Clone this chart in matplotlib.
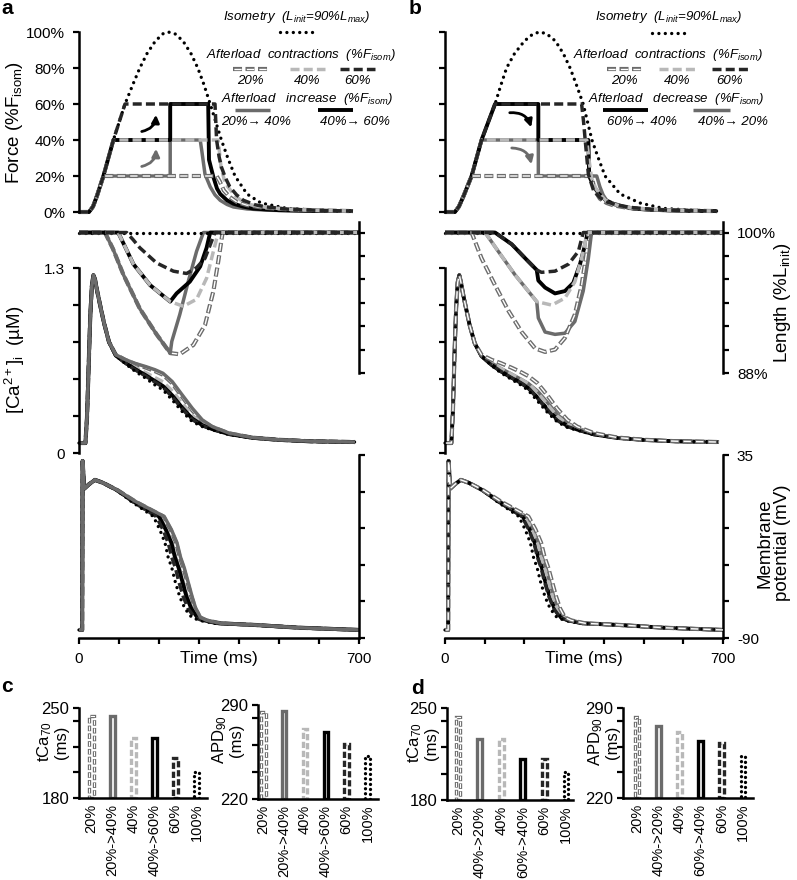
import matplotlib
matplotlib.use('Agg')
import matplotlib.pyplot as plt
from matplotlib.patches import FancyArrowPatch

plt.rcParams['font.family'] = ['Liberation Sans', 'DejaVu Sans']
plt.rcParams['mathtext.fontset'] = 'custom'
plt.rcParams['mathtext.rm'] = 'Liberation Sans'
plt.rcParams['mathtext.it'] = 'Liberation Sans:italic'
plt.rcParams['mathtext.bf'] = 'Liberation Sans:bold'
plt.rcParams['lines.scale_dashes'] = False

# ------------------------------------------------------------------ data
# Force (%F_isom) -- panel a
fa_t_iso = [0, 25, 35, 45, 61, 86, 115, 135, 152, 170, 191, 210, 223, 240, 260, 280, 297, 312, 328, 342, 356, 372, 390, 420, 455, 520, 590, 685]
fa_iso = [0, 0, 3, 9, 20, 40, 60, 71, 80, 88, 95, 99, 100, 99, 95, 88, 80, 71, 60, 50, 40, 30, 20, 10, 5, 2, 1, 0.5]
fa_t_20 = [0, 25, 35, 45, 61, 344, 352, 362, 377, 395, 420, 460, 520, 600, 685]
fa_20 = [0, 0, 3, 9, 20, 20, 17, 12, 8.3, 5.5, 3.8, 2.4, 1.5, 0.9, 0.5]
fa_t_40 = [0, 25, 35, 45, 61, 86, 348, 355, 363, 372, 390, 405, 430, 470, 530, 600, 685]
fa_40 = [0, 0, 3, 9, 20, 40, 40, 25, 18, 14, 9, 6.5, 4, 2.5, 1.4, 0.9, 0.5]
fa_t_60 = [0, 25, 35, 45, 61, 86, 115, 340, 344, 350, 356, 366, 377, 394, 411, 440, 469, 520, 600, 685]
fa_60 = [0, 0, 3, 9, 20, 40, 60, 60, 40, 31, 25, 19, 14, 9.5, 6.5, 4, 2.8, 1.6, 0.9, 0.5]
fa_t_2040 = [0, 25, 35, 45, 61, 228, 228, 303, 307, 315, 328, 340, 353, 370, 386, 420, 469, 540, 620, 685]
fa_2040 = [0, 0, 3, 9, 20, 20, 40, 40, 34, 21, 14, 9.5, 6.5, 4.2, 2.8, 1.7, 1, 0.7, 0.5, 0.5]
fa_t_4060 = [0, 25, 35, 45, 61, 86, 228, 228, 323, 325, 336, 345, 353, 370, 386, 410, 436, 500, 580, 685]
fa_4060 = [0, 0, 3, 9, 20, 40, 40, 60, 60, 29, 19.4, 13, 10, 6.5, 4.6, 3, 1.9, 1, 0.6, 0.5]

# Force (%F_isom) -- panel b
fb_t_iso = [0, 25, 35, 47, 67, 92, 126, 140, 155, 175, 200, 222, 239, 256, 278, 298, 315, 332, 348, 359, 370, 386, 403, 441, 491, 550, 620, 685]
fb_iso = [0, 0, 3, 9, 20, 40, 60, 70, 80, 88, 95, 99, 100, 99, 95, 88, 80, 70, 60, 50, 40, 30, 20, 10, 5, 2, 1, 0.5]
fb_t_20 = [0, 25, 35, 47, 67, 369, 373, 377, 390, 407, 424, 460, 520, 600, 685]
fb_20 = [0, 0, 3, 9, 20, 20, 16, 12, 7.4, 5, 3.7, 2.3, 1.3, 0.8, 0.5]
fb_t_40 = [0, 25, 35, 47, 67, 92, 357, 362, 369, 380, 390, 405, 430, 470, 530, 600, 685]
fb_40 = [0, 0, 3, 9, 20, 40, 40, 30, 19, 13, 10, 6.5, 4, 2.3, 1.3, 0.8, 0.5]
fb_t_60 = [0, 25, 35, 47, 67, 92, 126, 344, 349, 353, 361, 374, 390, 407, 440, 474, 530, 600, 685]
fb_60 = [0, 0, 3, 9, 20, 40, 60, 60, 50, 40, 21, 12, 8, 5.6, 3.5, 2.4, 1.3, 0.8, 0.5]
fb_t_6040 = [0, 25, 35, 47, 67, 92, 126, 235, 235, 361, 363, 375, 388, 405, 424, 450, 474, 520, 600, 685]
fb_6040 = [0, 0, 3, 9, 20, 40, 60, 60, 40, 40, 20, 14, 10, 6.5, 4.6, 3, 1.9, 1.2, 0.7, 0.5]
fb_t_4020 = [0, 25, 35, 47, 67, 92, 235, 235, 382, 390, 398, 407, 420, 445, 480, 540, 620, 685]
fb_4020 = [0, 0, 3, 9, 20, 40, 40, 20, 20, 14, 9.5, 6.5, 4.5, 3, 1.8, 1, 0.6, 0.5]

# Length (%L_init) -- panel a
la_t_iso = [0, 700]
la_iso = [100, 100]
la_t_20 = [0, 65, 85, 111, 152, 194, 228, 252, 286, 315, 336, 348, 359, 700]
la_20 = [100, 100, 98.6, 96.4, 93.5, 91.3, 89.7, 89.6, 90.4, 92.1, 95.0, 97.5, 100, 100]
la_t_2040 = [0, 65, 85, 111, 152, 194, 228, 232, 252, 273, 294, 311, 700]
la_2040 = [100, 100, 98.6, 96.4, 93.5, 91.3, 89.7, 90.7, 93.0, 95.8, 98.4, 100, 100]
la_t_40 = [0, 98, 115, 136, 178, 228, 261, 294, 319, 336, 348, 700]
la_40 = [100, 100, 98.8, 97.3, 95.5, 94.1, 93.7, 94.3, 96.1, 98.4, 100, 100]
la_t_4060 = [0, 98, 115, 136, 178, 228, 244, 277, 303, 319, 328, 700]
la_4060 = [100, 100, 98.8, 97.3, 95.5, 94.1, 94.8, 95.8, 97.1, 98.7, 100, 100]
la_t_60 = [0, 119, 135, 152, 194, 236, 269, 294, 315, 332, 340, 700]
la_60 = [100, 100, 99.4, 98.7, 97.4, 96.7, 96.5, 97.0, 97.8, 99.3, 100, 100]

# Length (%L_init) -- panel b
lb_t_iso = [0, 700]
lb_iso = [100, 100]
lb_t_20 = [0, 67, 92, 126, 160, 193, 227, 252, 277, 302, 327, 344, 357, 361, 700]
lb_20 = [100, 100, 97.8, 95.5, 93.3, 91.5, 90.1, 89.8, 90.0, 91.0, 93.0, 95.5, 98.4, 100, 100]
lb_t_40 = [0, 101, 134, 176, 231, 269, 302, 327, 344, 357, 360, 700]
lb_40 = [100, 100, 98.4, 96.4, 94.1, 93.8, 94.4, 95.8, 97.8, 99.8, 100, 100]
lb_t_4020 = [0, 101, 134, 176, 231, 235, 252, 277, 302, 327, 348, 361, 369, 700]
lb_4020 = [100, 100, 98.4, 96.4, 94.1, 92.7, 91.5, 91.3, 91.4, 92.4, 95.0, 97.8, 100, 100]
lb_t_6040 = [0, 126, 168, 202, 231, 235, 252, 277, 302, 323, 340, 353, 359, 700]
lb_6040 = [100, 100, 99.0, 97.8, 96.8, 95.9, 95.3, 94.8, 95.0, 95.7, 97.3, 99.0, 100, 100]
lb_t_60 = [0, 126, 168, 202, 231, 243, 277, 311, 336, 348, 700]
lb_60 = [100, 100, 99.0, 97.8, 96.8, 96.6, 96.7, 97.3, 98.4, 100, 100]

# [Ca2+]i (uM)
ca_t = [0, 16, 20, 24, 28, 32, 36, 40, 46, 52, 62, 75, 92, 117, 140, 167, 190, 210, 233, 258, 283, 308, 333, 375, 433, 500, 580, 690]
ca_a_iso = [0.07, 0.07, 0.25, 0.6, 0.95, 1.17, 1.25, 1.22, 1.13, 1.05, 0.92, 0.78, 0.685, 0.625, 0.575, 0.525, 0.478, 0.443, 0.373, 0.291, 0.221, 0.186, 0.163, 0.130, 0.106, 0.092, 0.082, 0.077]
ca_a_60 = [0.07, 0.07, 0.25, 0.6, 0.95, 1.17, 1.25, 1.22, 1.13, 1.05, 0.92, 0.78, 0.685, 0.630, 0.585, 0.540, 0.498, 0.462, 0.395, 0.310, 0.235, 0.192, 0.166, 0.132, 0.107, 0.092, 0.082, 0.077]
ca_a_4060 = [0.07, 0.07, 0.25, 0.6, 0.95, 1.17, 1.25, 1.22, 1.13, 1.05, 0.92, 0.78, 0.685, 0.632, 0.590, 0.546, 0.505, 0.470, 0.405, 0.318, 0.242, 0.196, 0.168, 0.133, 0.107, 0.092, 0.082, 0.077]
ca_a_40 = [0.07, 0.07, 0.25, 0.6, 0.95, 1.17, 1.25, 1.22, 1.13, 1.05, 0.92, 0.78, 0.685, 0.640, 0.602, 0.565, 0.530, 0.500, 0.437, 0.350, 0.265, 0.207, 0.172, 0.135, 0.108, 0.093, 0.082, 0.077]
ca_a_20 = [0.07, 0.07, 0.25, 0.6, 0.95, 1.17, 1.25, 1.22, 1.13, 1.05, 0.92, 0.78, 0.690, 0.652, 0.625, 0.600, 0.575, 0.550, 0.490, 0.395, 0.300, 0.225, 0.182, 0.138, 0.108, 0.093, 0.082, 0.077]
ca_a_2040 = [0.07, 0.07, 0.25, 0.6, 0.95, 1.17, 1.25, 1.22, 1.13, 1.05, 0.92, 0.78, 0.690, 0.655, 0.630, 0.607, 0.585, 0.560, 0.502, 0.408, 0.315, 0.233, 0.186, 0.140, 0.109, 0.093, 0.083, 0.077]
ca_b_iso = [0.07, 0.07, 0.3, 0.7, 1.02, 1.2, 1.25, 1.2, 1.11, 1.03, 0.90, 0.77, 0.680, 0.615, 0.565, 0.518, 0.480, 0.440, 0.365, 0.285, 0.218, 0.180, 0.160, 0.128, 0.105, 0.092, 0.082, 0.077]
ca_b_60 = [0.07, 0.07, 0.3, 0.7, 1.02, 1.2, 1.25, 1.2, 1.11, 1.03, 0.90, 0.77, 0.680, 0.620, 0.575, 0.530, 0.495, 0.458, 0.385, 0.300, 0.228, 0.186, 0.163, 0.130, 0.106, 0.092, 0.082, 0.077]
ca_b_6040 = [0.07, 0.07, 0.3, 0.7, 1.02, 1.2, 1.25, 1.2, 1.11, 1.03, 0.90, 0.77, 0.680, 0.620, 0.575, 0.530, 0.495, 0.455, 0.390, 0.308, 0.235, 0.190, 0.165, 0.131, 0.106, 0.092, 0.082, 0.077]
ca_b_40 = [0.07, 0.07, 0.3, 0.7, 1.02, 1.2, 1.25, 1.2, 1.11, 1.03, 0.90, 0.77, 0.682, 0.632, 0.595, 0.555, 0.520, 0.488, 0.425, 0.340, 0.258, 0.203, 0.170, 0.134, 0.107, 0.093, 0.082, 0.077]
ca_b_4020 = [0.07, 0.07, 0.3, 0.7, 1.02, 1.2, 1.25, 1.2, 1.11, 1.03, 0.90, 0.77, 0.682, 0.632, 0.595, 0.555, 0.520, 0.488, 0.435, 0.355, 0.270, 0.210, 0.175, 0.136, 0.108, 0.093, 0.082, 0.077]
ca_b_20 = [0.07, 0.07, 0.3, 0.7, 1.02, 1.2, 1.25, 1.2, 1.11, 1.03, 0.90, 0.77, 0.690, 0.655, 0.632, 0.600, 0.570, 0.540, 0.490, 0.405, 0.310, 0.233, 0.185, 0.140, 0.109, 0.093, 0.083, 0.077]

# Membrane potential (mV): shared voltage levels, per-curve times (ms)
vm_v = [-84.5, -84.5, 31, 12, 15, 18, 16, 11, 3, -7, -16, -25, -35, -42, -51, -62, -70, -76, -78, -80, -81, -83, -84.5]
vm_a_iso = [0, 8, 9, 13, 25, 40, 60, 94, 132, 186, 202, 215, 223, 232, 240, 252, 265, 282, 302, 340, 428, 553, 700]
vm_a_60 = [0, 8, 9, 13, 25, 40, 60, 94, 135, 193, 210, 223, 232, 241, 249, 261, 273, 289, 308, 345, 430, 553, 700]
vm_a_4060 = [0, 8, 9, 13, 25, 40, 60, 95, 138, 200, 217, 231, 240, 249, 258, 269, 281, 296, 314, 350, 432, 553, 700]
vm_a_40 = [0, 8, 9, 13, 25, 40, 60, 95, 139, 202, 219, 233, 242, 251, 260, 271, 283, 298, 316, 351, 432, 553, 700]
vm_a_20 = [0, 8, 9, 13, 25, 40, 60, 96, 142, 211, 229, 243, 252, 261, 270, 281, 291, 303, 319, 355, 435, 553, 700]
vm_a_2040 = [0, 8, 9, 13, 25, 40, 60, 96, 143, 213, 231, 245, 254, 263, 272, 283, 292, 304, 320, 355, 435, 553, 700]
vm_b_iso = [0, 8, 9, 13, 25, 40, 60, 94, 132, 186, 202, 215, 223, 232, 240, 252, 265, 282, 302, 340, 428, 553, 700]
vm_b_60 = [0, 8, 9, 13, 25, 40, 60, 94, 135, 194, 211, 224, 233, 242, 250, 262, 274, 290, 309, 346, 430, 553, 700]
vm_b_6040 = [0, 8, 9, 13, 25, 40, 60, 94, 136, 196, 213, 226, 235, 244, 252, 264, 276, 292, 310, 347, 430, 553, 700]
vm_b_40 = [0, 8, 9, 13, 25, 40, 60, 95, 139, 202, 219, 233, 242, 251, 260, 271, 283, 298, 316, 351, 432, 553, 700]
vm_b_4020 = [0, 8, 9, 13, 25, 40, 60, 95, 140, 204, 221, 236, 245, 254, 263, 274, 286, 301, 318, 353, 433, 553, 700]
vm_b_20 = [0, 8, 9, 13, 25, 40, 60, 96, 142, 210, 228, 242, 251, 260, 269, 280, 290, 302, 318, 354, 435, 553, 700]

# Bar charts
cats_c = ['20%', '20%->40%', '40%', '40%->60%', '60%', '100%']
cats_d = ['20%', '40%->20%', '40%', '60%->40%', '60%', '100%']
bar_kinds = ['dd', 'gs', 'lg', 'bs', 'dk', 'iso']
c_tca = [244, 244, 227, 226.5, 211.5, 200.5]
c_apd = [284.5, 285.5, 272, 270, 261, 252]
d_tca = [243.5, 226.5, 226.5, 211.5, 211.5, 201]
d_apd = [283, 276, 271.5, 264.5, 262.5, 252.5]

# ------------------------------------------------------------------ styles
GRAY = '#6b6b6b'
LGRAY = '#b8b8b8'
DARK = '#262626'
LW = 2.5


def draw(ax, kind, t, v, z=2.0):
    if kind == 'dd':
        ax.plot(t, v, color=GRAY, lw=3.0, ls=(0, (6.5, 2.5)), zorder=z, clip_on=False, dash_capstyle='butt')
        ax.plot(t, v, color='white', lw=1.0, ls=(8.4, (5.3, 3.7)), zorder=z + 0.01, clip_on=False, dash_capstyle='butt')
    elif kind == 'iso':
        ax.plot(t, v, color='black', lw=2.4, ls=(0, (0.01, 4.6)), zorder=z, clip_on=False, dash_capstyle='round')
    elif kind == 'lg':
        ax.plot(t, v, color=LGRAY, lw=LW, ls=(0, (6.5, 3)), zorder=z, clip_on=False, dash_capstyle='butt')
    elif kind == 'dk':
        ax.plot(t, v, color=DARK, lw=LW, ls=(0, (6.5, 3)), zorder=z, clip_on=False, dash_capstyle='butt')
    elif kind == 'gs':
        ax.plot(t, v, color=GRAY, lw=LW, ls='-', zorder=z, clip_on=False, solid_capstyle='butt')
    elif kind == 'bs':
        ax.plot(t, v, color='black', lw=LW + 0.3, ls='-', zorder=z, clip_on=False, solid_capstyle='butt')


W, H = 797, 880
fig = plt.figure(figsize=(W / 100, H / 100), dpi=100)


def rect(x0, x1, yt, yb):
    return [x0 / W, 1 - yb / H, (x1 - x0) / W, (yb - yt) / H]


SPW = 1.8
TKP = dict(direction='out', length=4, width=1.6, labelsize=11, pad=6)


def base(ax):
    ax.set_facecolor('none')
    for s in ax.spines.values():
        s.set_visible(False)
        s.set_linewidth(SPW)
    ax.set_xticks([])
    ax.set_yticks([])
    ax.set_xlim(0, 700)


def panel(x0, x1, F, L, C, V, lab_left, lab_right):
    # force
    axF = fig.add_axes(rect(x0, x1, 32, 212))
    base(axF)
    axF.set_ylim(0, 100)
    axF.spines['left'].set_visible(True)
    axF.set_yticks([0, 20, 40, 60, 80, 100])
    axF.set_yticklabels(['0%', '20%', '40%', '60%', '80%', '100%'] if lab_left else [''] * 6)
    axF.tick_params(axis='y', **TKP)
    for i, (k, t, v) in enumerate(F):
        draw(axF, k, t, v, 2 + i * 0.1)
    # length
    axL = fig.add_axes(rect(x0, x1, 222, 373))
    base(axL)
    axL.set_ylim(88, 100.9)
    axL.spines['right'].set_visible(True)
    axL.yaxis.tick_right()
    axL.set_yticks([88, 90, 92, 94, 96, 98, 100])
    axL.set_yticklabels(['88%', '', '', '', '', '', '100%'] if lab_right else [''] * 7)
    axL.tick_params(axis='y', **TKP)
    for i, (k, t, v) in enumerate(L):
        draw(axL, k, t, v, 2 + i * 0.1)
    # calcium
    axC = fig.add_axes(rect(x0, x1, 268, 453))
    base(axC)
    axC.set_ylim(0, 1.3)
    axC.spines['left'].set_visible(True)
    axC.set_yticks([0, 0.26, 0.52, 0.78, 1.04, 1.3])
    axC.set_yticklabels(['0', '', '', '', '', '1.3'] if lab_left else [''] * 6)
    axC.tick_params(axis='y', **TKP)
    for i, (k, t, v) in enumerate(C):
        draw(axC, k, t, v, 2 + i * 0.1)
    # membrane potential
    axV = fig.add_axes(rect(x0, x1, 455, 638))
    base(axV)
    axV.set_ylim(-90, 35)
    axV.spines['right'].set_visible(True)
    axV.spines['bottom'].set_visible(True)
    axV.yaxis.tick_right()
    axV.set_yticks([-90, -65, -40, -15, 10, 35])
    axV.set_yticklabels(['-90', '', '', '', '', '35'] if lab_right else [''] * 6)
    axV.set_xticks(list(range(0, 701, 100)))
    axV.set_xticklabels(['0', '', '', '', '', '', '', '700'])
    axV.tick_params(axis='both', **TKP)
    for i, (k, t, v) in enumerate(V):
        draw(axV, k, t, v, 2 + i * 0.1)


panel(79, 359,
      [('gs', fa_t_2040, fa_2040), ('bs', fa_t_4060, fa_4060), ('iso', fa_t_iso, fa_iso),
       ('dd', fa_t_20, fa_20), ('lg', fa_t_40, fa_40), ('dk', fa_t_60, fa_60)],
      [('dd', la_t_20, la_20), ('gs', la_t_2040, la_2040), ('bs', la_t_4060, la_4060),
       ('iso', la_t_iso, la_iso), ('lg', la_t_40, la_40), ('dk', la_t_60, la_60)],
      [('dd', ca_t, ca_a_20), ('lg', ca_t, ca_a_40), ('bs', ca_t, ca_a_4060),
       ('dk', ca_t, ca_a_60), ('iso', ca_t, ca_a_iso), ('gs', ca_t, ca_a_2040)],
      [('dd', vm_a_20, vm_v), ('lg', vm_a_40, vm_v), ('bs', vm_a_4060, vm_v),
       ('dk', vm_a_60, vm_v), ('iso', vm_a_iso, vm_v), ('gs', vm_a_2040, vm_v)],
      True, False)

panel(445, 723,
      [('gs', fb_t_4020, fb_4020), ('bs', fb_t_6040, fb_6040), ('iso', fb_t_iso, fb_iso),
       ('dd', fb_t_20, fb_20), ('lg', fb_t_40, fb_40), ('dk', fb_t_60, fb_60)],
      [('gs', lb_t_4020, lb_4020), ('bs', lb_t_6040, lb_6040), ('iso', lb_t_iso, lb_iso),
       ('dd', lb_t_20, lb_20), ('lg', lb_t_40, lb_40), ('dk', lb_t_60, lb_60)],
      [('gs', ca_t, ca_b_4020), ('bs', ca_t, ca_b_6040), ('lg', ca_t, ca_b_40),
       ('dk', ca_t, ca_b_60), ('iso', ca_t, ca_b_iso), ('dd', ca_t, ca_b_20)],
      [('gs', vm_b_4020, vm_v), ('bs', vm_b_6040, vm_v), ('lg', vm_b_40, vm_v),
       ('dk', vm_b_60, vm_v), ('iso', vm_b_iso, vm_v), ('dd', vm_b_20, vm_v)],
      False, True)

# ------------------------------------------------------------------ bar charts
BW = 0.22


def bar_panel(x0, x1, yt, yb, xl, ylim, yticks, ylabs, vals, cats):
    ax = fig.add_axes(rect(x0, x1, yt, yb))
    ax.set_facecolor('none')
    for s in ['top', 'right']:
        ax.spines[s].set_visible(False)
    for s in ['left', 'bottom']:
        ax.spines[s].set_linewidth(SPW)
        ax.spines[s].set_zorder(5)
    ax.set_xlim(*xl)
    ax.set_ylim(*ylim)
    ymin = ylim[0]
    for i, (v, k) in enumerate(zip(vals, bar_kinds)):
        h = v - ymin
        if k == 'dd':
            ax.bar(i, h, bottom=ymin, width=BW, facecolor='white', edgecolor=GRAY, lw=2.4, ls=(0, (4, 1.6)))
            ax.bar(i, h, bottom=ymin, width=BW, facecolor='none', edgecolor='white', lw=0.8, ls=(5.0, (3.0, 2.6)))
        elif k == 'iso':
            ax.bar(i, h, bottom=ymin, width=BW, facecolor='white', edgecolor='black', lw=2.4,
                   ls=(0, (0.01, 3.6)), capstyle='round')
        else:
            col = {'gs': GRAY, 'lg': LGRAY, 'bs': 'black', 'dk': DARK}[k]
            ls = '-' if k in ('gs', 'bs') else (0, (4.5, 2))
            ax.bar(i, h, bottom=ymin, width=BW, facecolor='white', edgecolor=col, lw=2.4, ls=ls)
    ax.set_yticks(yticks)
    ax.set_yticklabels(ylabs)
    ax.set_xticks(range(len(cats)))
    ax.set_xticklabels(cats, rotation=90, fontsize=10.5)
    ax.tick_params(axis='y', direction='out', length=4, width=1.6, labelsize=12, pad=3)
    ax.tick_params(axis='x', length=0, pad=4)
    return ax


bar_panel(79, 207, 708, 798, (-0.6, 5.5), (180, 250), [180, 200, 220, 240, 250],
          ['180', '', '', '', '250'], c_tca, cats_c)
bar_panel(258, 378, 705, 799, (-0.25, 5.5), (220, 290), [220, 240, 260, 280, 290],
          ['220', '', '', '', '290'], c_apd, cats_c)
bar_panel(447, 573, 708, 800, (-0.51, 5.32), (180, 250), [180, 200, 220, 240, 250],
          ['180', '', '', '', '250'], d_tca, cats_d)
bar_panel(623, 753, 708, 798, (-0.66, 5.47), (220, 290), [220, 240, 260, 280, 290],
          ['220', '', '', '', '290'], d_apd, cats_d)

# ------------------------------------------------------------------ overlay: labels, legends, arrows
ov = fig.add_axes([0, 0, 1, 1])
ov.set_xlim(0, W)
ov.set_ylim(H, 0)
ov.axis('off')
ov.set_facecolor('none')
ov.set_zorder(10)

for ch, x, y in [('a', 1, 9), ('b', 409, 9), ('c', 1, 686), ('d', 411, 688)]:
    ov.text(x, y, ch, fontsize=15, fontweight='bold', ha='left', va='center')

ov.text(15, 122, 'Force (%F$_{\\mathrm{isom}}$)', rotation=90, ha='center', va='center', fontsize=13.5)
ov.text(15, 360, '[Ca$^{\\mathrm{2+}}$]$_{\\mathrm{i}}$  (\u00b5M)', rotation=90, ha='center', va='center', fontsize=13.5)
ov.text(783, 303, 'Length (%L$_{\\mathrm{init}}$)', rotation=90, ha='center', va='center', fontsize=13.5)
ov.text(774, 543, 'Membrane\npotential (mV)', rotation=90, ha='center', va='center', fontsize=13.5,
        multialignment='center', linespacing=1.0)
ov.text(219, 659, 'Time (ms)', ha='center', va='center', fontsize=12.5)
ov.text(584, 659, 'Time (ms)', ha='center', va='center', fontsize=12.5)

ov.text(52, 742, 'tCa$_{\\mathrm{70}}$\n(ms)', rotation=90, ha='center', va='center', fontsize=12,
        multialignment='center', linespacing=1.0)
ov.text(227, 740, 'APD$_{\\mathrm{90}}$\n(ms)', rotation=90, ha='center', va='center', fontsize=12,
        multialignment='center', linespacing=1.0)
ov.text(422, 743, 'tCa$_{\\mathrm{70}}$\n(ms)', rotation=90, ha='center', va='center', fontsize=12,
        multialignment='center', linespacing=1.0)
ov.text(603, 742, 'APD$_{\\mathrm{90}}$\n(ms)', rotation=90, ha='center', va='center', fontsize=12,
        multialignment='center', linespacing=1.0)

LEGFS = 9.5


def legend_block(x_iso, iso_line, x_ac, ac_lines, ac_labs, x_ch, ch_title, ch_lines, ch_labs):
    ov.text(x_iso, 17, 'Isometry  (L$_{\\mathit{init}}$=90%L$_{\\mathit{max}}$)', style='italic',
            fontsize=LEGFS, ha='left', va='center')
    draw(ov, 'iso', iso_line[:2], [iso_line[2]] * 2, 20)
    ov.text(x_ac, 55, 'Afterload  contractions  (%F$_{\\mathit{isom}}$)', style='italic',
            fontsize=LEGFS, ha='left', va='center')
    for (k, xa, xb), lab in zip(ac_lines, ac_labs):
        draw(ov, k, [xa, xb], [69, 69], 20)
        ov.text((xa + xb) / 2, 81, lab, style='italic', fontsize=LEGFS, ha='center', va='center')
    ov.text(x_ch, 99, ch_title, style='italic', fontsize=LEGFS, ha='left', va='center')
    for (k, xa, xb), (lab, xc) in zip(ch_lines, ch_labs):
        draw(ov, k, [xa, xb], [110, 110], 20)
        ov.text(xc, 122, lab, style='italic', fontsize=LEGFS, ha='center', va='center')


legend_block(223, (280, 313, 32), 206,
             [('dd', 233, 268), ('lg', 290, 325), ('dk', 340, 375)], ['20%', '40%', '60%'],
             221, 'Afterload   increase  (%F$_{\\mathit{isom}}$)',
             [('gs', 235, 270), ('bs', 318, 353)], [('20%\u2192 40%', 256), ('40%\u2192 60%', 355)])
legend_block(595, (652, 687, 33), 573,
             [('dd', 607, 642), ('lg', 659, 696), ('dk', 712, 748)], ['20%', '40%', '60%'],
             588, 'Afterload   decrease  (%F$_{\\mathit{isom}}$)',
             [('bs', 603, 648), ('gs', 693, 730)], [('60%\u2192 40%', 642), ('40%\u2192 20%', 733)])

for (p0, p1, col, rad) in [((139, 132), (156, 112), 'black', 0.45),
                           ((139, 167), (156, 146), GRAY, 0.45),
                           ((507, 113), (532, 130), 'black', -0.45),
                           ((509, 148), (532, 167), GRAY, -0.45)]:
    ov.add_patch(FancyArrowPatch(p0, p1, arrowstyle='-|>', mutation_scale=11, lw=2.0, color=col,
                                 connectionstyle='arc3,rad=%s' % rad, zorder=20))

fig.savefig('out.png', dpi=100)
